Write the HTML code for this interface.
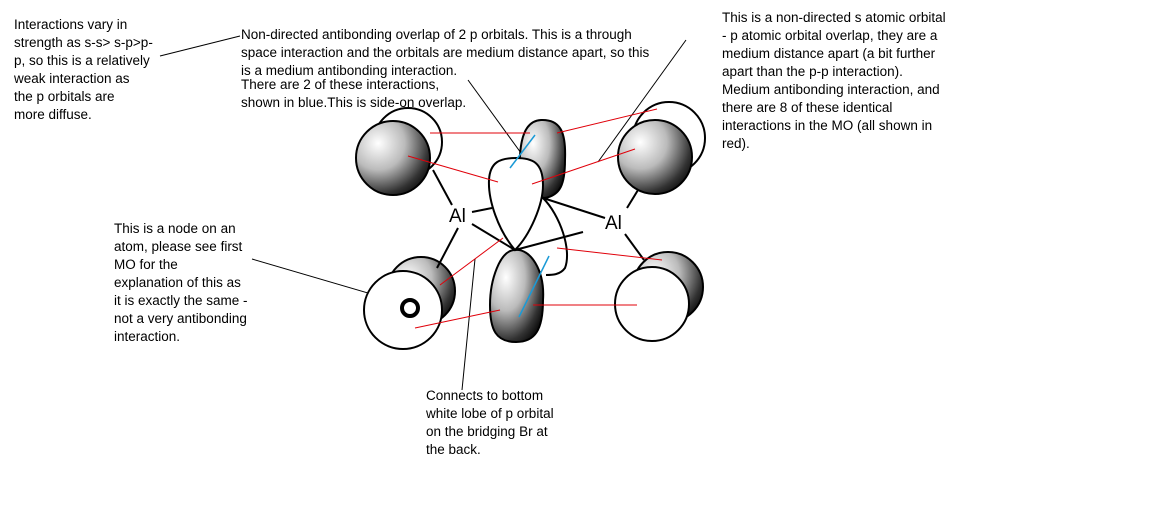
<!DOCTYPE html>
<html><head><meta charset="utf-8"><style>
html,body{margin:0;padding:0;background:#fff;}
body{width:1162px;height:526px;position:relative;overflow:hidden;font-family:"Liberation Sans",sans-serif;}
.t{position:absolute;font-size:13.5px;line-height:18px;color:#000;white-space:nowrap;}
svg{position:absolute;left:0;top:0;}
</style></head><body>
<svg width="1162" height="526" viewBox="0 0 1162 526">
<defs>
<radialGradient id="g" cx="0.3" cy="0.3" r="0.8">
<stop offset="0" stop-color="#fff"/><stop offset="0.45" stop-color="#bbb"/><stop offset="0.85" stop-color="#333"/><stop offset="1" stop-color="#111"/>
</radialGradient>
</defs>
<g stroke="#000" stroke-width="1">
<line x1="160" y1="56" x2="240" y2="36"/>
<line x1="468" y1="80" x2="521" y2="153"/>
<line x1="686" y1="40" x2="598" y2="162"/>
<line x1="252" y1="259" x2="402" y2="303"/>
<line x1="475" y1="259" x2="462" y2="390"/>
</g>
<circle cx="408" cy="142" r="34" fill="#fff" stroke="#000" stroke-width="2"/>
<circle cx="393" cy="158" r="37" fill="url(#g)" stroke="#000" stroke-width="2"/>
<circle cx="669" cy="138" r="36" fill="#fff" stroke="#000" stroke-width="2"/>
<circle cx="655" cy="157" r="37" fill="url(#g)" stroke="#000" stroke-width="2"/>
<circle cx="421" cy="291" r="34" fill="url(#g)" stroke="#000" stroke-width="2"/>
<circle cx="403" cy="310" r="39" fill="#fff" stroke="#000" stroke-width="2"/>
<circle cx="410" cy="308" r="8" fill="none" stroke="#000" stroke-width="4"/>
<circle cx="668" cy="287" r="35" fill="url(#g)" stroke="#000" stroke-width="2"/>
<circle cx="652" cy="304" r="37" fill="#fff" stroke="#000" stroke-width="2"/>
<path d="M520,195 C518,150 520,121 541,120 C562,119 566,135 565,160 C565,185 560,195 545,198 Z" fill="url(#g)" stroke="#000" stroke-width="2"/>
<path d="M543,198 C560,215 572,250 565,268 C560,275 552,275 546,275" fill="none" stroke="#000" stroke-width="2"/>
<path d="M515,250 C530,248 545,270 543,300 C543,330 535,342 516,342 C496,342 490,330 490,305 C490,280 500,250 515,250 Z" fill="url(#g)" stroke="#000" stroke-width="2"/>
<path d="M515,250 C498,230 488,200 489,180 C490,162 500,158 516,158 C532,158 543,162 543,185 C543,205 530,235 515,250 Z" fill="#fff" stroke="#000" stroke-width="2"/>
<g stroke="#000" stroke-width="2">
<line x1="433" y1="170" x2="452" y2="205"/>
<line x1="458" y1="228" x2="437" y2="268"/>
<line x1="472" y1="212" x2="492" y2="208"/>
<line x1="472" y1="224" x2="515" y2="250"/>
<line x1="515" y1="250" x2="583" y2="232"/>
<line x1="543" y1="198" x2="605" y2="218"/>
<line x1="638" y1="190" x2="627" y2="208"/>
<line x1="625" y1="234" x2="644" y2="260"/>
</g>
<text x="449" y="222" font-family="Liberation Sans,sans-serif" font-size="19">Al</text>
<text x="605" y="229" font-family="Liberation Sans,sans-serif" font-size="19">Al</text>
<g stroke="#e0000a" stroke-width="1">
<line x1="430" y1="133" x2="530" y2="133"/>
<line x1="557" y1="133" x2="657" y2="109"/>
<line x1="408" y1="156" x2="498" y2="182"/>
<line x1="532" y1="184" x2="635" y2="149"/>
<line x1="440" y1="285" x2="503" y2="238"/>
<line x1="415" y1="328" x2="500" y2="310"/>
<line x1="557" y1="248" x2="662" y2="260"/>
<line x1="533" y1="305" x2="637" y2="305"/>
</g>
<g stroke="#1a9ad6" stroke-width="1.5">
<line x1="510" y1="168" x2="535" y2="135"/>
<line x1="519" y1="317" x2="549" y2="256"/>
</g>
</svg>
<div class="t" style="left:14px;top:16px;">Interactions vary in<br>strength as s-s&gt; s-p&gt;p-<br>p, so this is a relatively<br>weak interaction as<br>the p orbitals are<br>more diffuse.</div>
<div class="t" style="left:241px;top:26px;">Non-directed antibonding overlap of 2 p orbitals. This is a through<br>space interaction and the orbitals are medium distance apart, so this<br>is a medium antibonding interaction.</div>
<div class="t" style="left:241px;top:76px;">There are 2 of these interactions,<br>shown in blue.This is side-on overlap.</div>
<div class="t" style="left:722px;top:9px;">This is a non-directed s atomic orbital<br>- p atomic orbital overlap, they are a<br>medium distance apart (a bit further<br>apart than the p-p interaction).<br>Medium antibonding interaction, and<br>there are 8 of these identical<br>interactions in the MO (all shown in<br>red).</div>
<div class="t" style="left:114px;top:220px;">This is a node on an<br>atom, please see first<br>MO for the<br>explanation of this as<br>it is exactly the same -<br>not a very antibonding<br>interaction.</div>
<div class="t" style="left:426px;top:387px;">Connects to bottom<br>white lobe of p orbital<br>on the bridging Br at<br>the back.</div>
</body></html>
